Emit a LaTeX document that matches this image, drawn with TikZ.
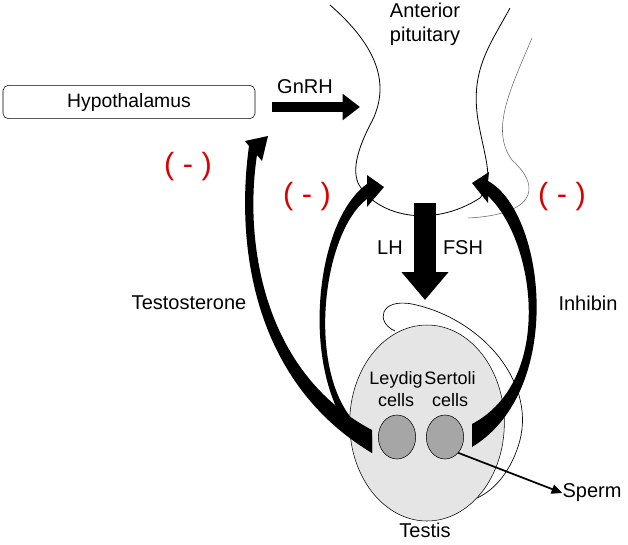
\documentclass[tikz,border=0pt]{standalone}
\usepackage{fontspec}
\setmainfont{Liberation Sans}
\usetikzlibrary{arrows.meta}
\usetikzlibrary{positioning}
\usetikzlibrary{shapes.geometric}

\begin{document}
\begin{tikzpicture}
[
	x = 0.75pt, y = -0.75pt,
	label/.style	= {font = \fontsize{15}{18}\selectfont, inner sep = 0pt},
	small/.style	= {font = \fontsize{13.5}{16}\selectfont, align = center, inner sep = 0pt},
	minus/.style	= {font = \fontsize{23}{24}\selectfont, text = red!85!black, inner sep = 0pt},
	cell/.style	= {ellipse, draw = black, fill = black!35!white, minimum width = 28pt, minimum height = 33pt, inner sep = 0pt},
	organ/.style	= {draw = black, line width = 0.6pt},
	hormone/.style	= {fill = black},
	bigarrow/.style	= {-{Triangle[length = 13pt, width = 19pt]}, line width = 7.5pt},
]
	\useasboundingbox (0,0) rectangle (628,544);

	% hypothalamus and pituitary
	\node (hyp) [draw, rounded corners = 4pt, minimum width = 189pt, minimum height = 25pt, font = \fontsize{14.5}{17}\selectfont] at (129,102) {Hypothalamus};
	\node (pit) [label, align = center] at (425,24) {Anterior\\pituitary};
	\node (gnrh) [label] at (305,87) {GnRH};
	\coordinate (gnrhS) at (272,107);
	\coordinate (gnrhE) at (360,107);
	\draw [bigarrow] (gnrhS) -- (gnrhE);

	\draw [organ] (330,5) .. controls (370,40) and (395,80) .. (370,125)
		.. controls (352,160) and (355,175) .. (358,183)
		.. controls (375,215) and (430,230) .. (480,198)
		.. controls (495,180) and (485,160) .. (478,120)
		.. controls (470,70) and (490,45) .. (510,8);
	\draw [organ, black!60!white, line width = 0.4pt] (532,38) .. controls (510,90) and (490,130) .. (512,160)
		.. controls (545,190) and (530,215) .. (468,218);

	% LH / FSH
	\coordinate (lhS) at (425,203);
	\coordinate (lhE) at (425,300);
	\draw [-{Triangle[length = 21pt, width = 34pt]}, line width = 16pt] (lhS) -- (lhE);
	\node (lh) [label] at (390,248) {LH};
	\node (fsh) [label] at (463,248) {FSH};

	% testis
	\draw [organ, line width = 0.5pt] (395,331) .. controls (375,322) and (380,298) .. (412,304)
		.. controls (480,318) and (535,380) .. (520,440)
		.. controls (512,470) and (495,490) .. (477,498);
	\node (testis) [ellipse, draw, fill = black!10!white, minimum width = 116pt, minimum height = 147pt] at (427,423) {};
	\node (leydig) [cell] at (397,437) {};
	\node (sertoli) [cell] at (445,437) {};
	\node (leydigT) [small] at (396,389) {Leydig\\cells};
	\node (sertoliT) [small] at (450,389) {Sertoli\\cells};
	\node (testisT) [label] at (425,530) {Testis};
	\node (sperm) [label] at (592,493) {Sperm};
	\draw [-{Triangle[length = 8pt, width = 7pt]}, line width = 1.3pt] (sertoli.-50) -- (sperm.west);

	% feedback
	\fill [hormone] (372,430) .. controls (262,372) and (244,240) .. (257,155)
		-- (262,161) -- (268,136) -- (245,141) -- (249,146)
		.. controls (236,240) and (250,380) .. (372,453) -- cycle;
	\fill [hormone] (372,436) .. controls (303,398) and (318,236) .. (367,199)
		-- (367,207) -- (384,187) -- (367,175) -- (367,184)
		.. controls (310,224) and (296,400) .. (372,453) -- cycle;
	\fill [hormone] (472,424) .. controls (555,380) and (535,240) .. (488,196)
		-- (488,203) -- (472,183) -- (489,172) -- (488,181)
		.. controls (545,212) and (566,390) .. (472,447) -- cycle;

	\node (testo) [label] at (189,303) {Testosterone};
	\node (inhibin) [label] at (588,303) {Inhibin};
	\node (m1) [minus] at (188,167) {( - )};
	\node (m2) [minus] at (307,197) {( - )};
	\node (m3) [minus] at (562,197) {( - )};
\end{tikzpicture}
\end{document}
